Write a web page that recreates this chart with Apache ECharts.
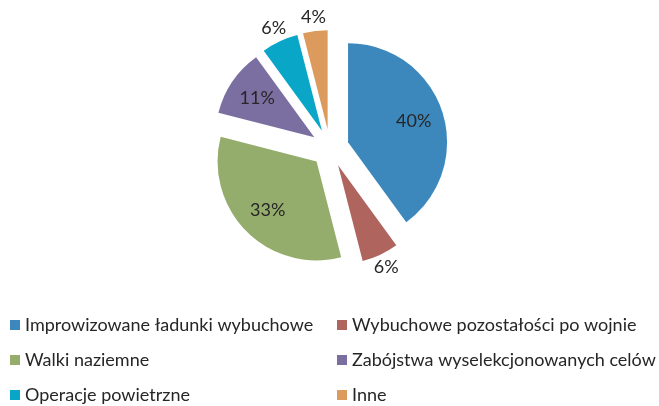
<!DOCTYPE html>
<html><head><meta charset="utf-8">
<script src="https://cdn.jsdelivr.net/npm/echarts@6/dist/echarts.min.js"></script>
<style>html,body{margin:0;padding:0;background:#fff}#c{width:659px;height:406px}</style>
</head><body><div id="c"></div>
<script>
const categories = ['Improwizowane ładunki wybuchowe','Wybuchowe pozostałości po wojnie','Walki naziemne','Zabójstwa wyselekcjonowanych celów','Operacje powietrzne','Inne'];
const values = [40, 6, 33, 11, 6, 4];
const colors = ['#3c87bc','#af645d','#95ad6c','#7a6fa0','#0aa6c8','#dc9a5d'];
const legendLeft = ['Improwizowane ładunki wybuchowe','Walki naziemne','Operacje powietrzne'];
const legendRight = ['Wybuchowe pozostałości po wojnie','Zabójstwa wyselekcjonowanych celów','Inne'];

const FONT = 'Lato';
const TXT = '#262626';
const center = [330, 148];
const R = 99;
const OFF = 19;
const legendCols = [10, 337];
const legendRowTop = 316, legendRowStep = 35;

function pieData(labelFilter, visible) {
  return categories.map((n, i) => ({
    name: n, value: values[i], selected: true,
    itemStyle: { color: visible ? colors[i] : 'rgba(0,0,0,0)' },
    label: { show: labelFilter ? labelFilter(values[i]) : false }
  }));
}
const base = {
  type: 'pie', center: center, startAngle: 90, clockwise: true,
  selectedMode: 'multiple', selectedOffset: OFF, avoidLabelOverlap: false,
  emphasis: { disabled: true }, labelLine: { show: false }, animation: false
};
const labelStyle = { position: 'inside', formatter: '{c}%', color: TXT, fontSize: 18, fontFamily: FONT };
const legendBase = {
  orient: 'horizontal', padding: 0, itemWidth: 10, itemHeight: 10,
  icon: 'rect', selectedMode: false,
  textStyle: { fontSize: 18, fontFamily: FONT, color: TXT, lineHeight: 14 }
};
const legends = [];
[legendLeft, legendRight].forEach((col, c) => col.forEach((name, r) => {
  legends.push(Object.assign({}, legendBase, { left: legendCols[c], top: legendRowTop + r * legendRowStep, data: [name] }));
}));

const chart = echarts.init(document.getElementById('c'), null, { renderer: 'canvas' });
chart.setOption({
  animation: false,
  color: colors,
  legend: legends,
  series: [
    Object.assign({}, base, { name: 'main', radius: [0, R], label: { show: false }, data: pieData(null, true) }),
    Object.assign({}, base, { name: 'inLabels', radius: [36, 96], silent: true, label: labelStyle, data: pieData(v => v >= 10, false) }),
    Object.assign({}, base, { name: 'outLabels', radius: [96, 124], silent: true, label: labelStyle, data: pieData(v => v < 10, false) })
  ]
});
</script></body></html>
